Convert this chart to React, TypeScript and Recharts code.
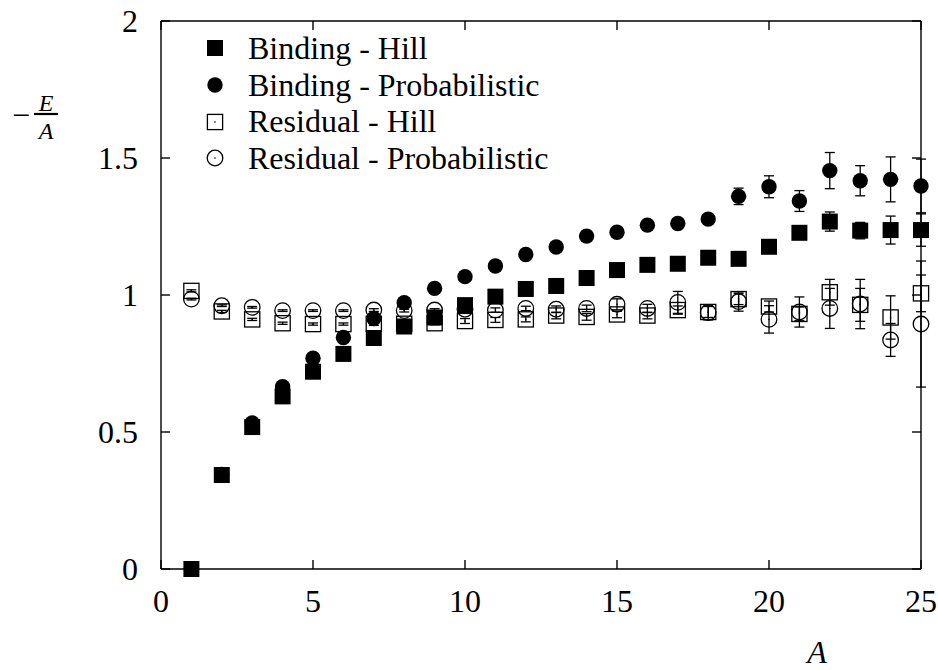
import React from 'react';
import { ScatterChart, Scatter, XAxis, YAxis, ErrorBar, ReferenceLine, Legend } from 'recharts';

// Mass number A
const massNumbers = [1, 2, 3, 4, 5, 6, 7, 8, 9, 10, 11, 12, 13, 14, 15, 16, 17, 18, 19, 20, 21, 22, 23, 24, 25];

// -E/A, binding energy per nucleon
const bindingHill = [0, 0.343, 0.518, 0.63, 0.72, 0.785, 0.843, 0.885, 0.918, 0.963, 0.994, 1.022, 1.033, 1.062, 1.091, 1.11, 1.114, 1.136, 1.132, 1.176, 1.227, 1.268, 1.235, 1.237, 1.237];
const bindingHillErr = [null, null, null, null, null, null, null, null, null, null, null, null, null, null, null, null, null, null, null, null, null, 0.035, 0.03, 0.051, 0.059];

const bindingProb = [0, 0.345, 0.533, 0.665, 0.769, 0.845, 0.914, 0.972, 1.024, 1.067, 1.106, 1.148, 1.175, 1.215, 1.229, 1.255, 1.261, 1.277, 1.36, 1.395, 1.343, 1.454, 1.417, 1.422, 1.398];
const bindingProbErr = [null, null, null, null, null, null, null, null, null, null, null, null, null, null, null, null, null, null, 0.03, 0.04, 0.038, 0.066, 0.055, 0.082, 0.098];

// -E/A, residual
const residualHill = [1.015, 0.94, 0.911, 0.897, 0.894, 0.894, 0.895, 0.895, 0.897, 0.905, 0.909, 0.911, 0.925, 0.92, 0.929, 0.925, 0.945, 0.938, 0.985, 0.958, 0.931, 1.01, 0.964, 0.918, 1.006];
const residualHillErr = [0.004, 0.004, 0.004, 0.004, 0.004, 0.004, 0.006, 0.006, 0.006, 0.009, 0.009, 0.009, 0.012, 0.012, 0.012, 0.012, 0.015, 0.02, 0.02, 0.02, 0.025, 0.047, 0.06, 0.079, 0.067];

const residualProb = [0.985, 0.961, 0.955, 0.943, 0.943, 0.943, 0.945, 0.943, 0.945, 0.948, 0.945, 0.951, 0.948, 0.951, 0.966, 0.951, 0.973, 0.936, 0.976, 0.911, 0.938, 0.951, 0.967, 0.836, 0.894];
const residualProbErr = [0.003, 0.003, 0.003, 0.003, 0.003, 0.003, 0.005, 0.005, 0.005, 0.008, 0.008, 0.008, 0.012, 0.012, 0.02, 0.015, 0.04, 0.027, 0.035, 0.05, 0.055, 0.073, 0.09, 0.06, 0.23];

const xTicks = [0, 5, 10, 15, 20, 25];
const yTicks = [0, 0.5, 1, 1.5, 2];

const seriesNames = ['Binding - Hill', 'Binding - Probabilistic', 'Residual - Hill', 'Residual - Probabilistic'];

type Kind = 'filledSquare' | 'filledCircle' | 'openSquare' | 'openCircle';

const toPoints = (values: number[], errors: (number | null)[]) =>
  massNumbers.map((a, i) => ({ a, v: values[i], err: errors[i] }));

const series: { name: string; kind: Kind; data: { a: number; v: number; err: number | null }[] }[] = [
  { name: seriesNames[0], kind: 'filledSquare', data: toPoints(bindingHill, bindingHillErr) },
  { name: seriesNames[1], kind: 'filledCircle', data: toPoints(bindingProb, bindingProbErr) },
  { name: seriesNames[2], kind: 'openSquare', data: toPoints(residualHill, residualHillErr) },
  { name: seriesNames[3], kind: 'openCircle', data: toPoints(residualProb, residualProbErr) },
];

const FONT = '"Liberation Serif", "Times New Roman", serif';
const FONT_SIZE = 32;
const PLOT_W = 760;
const PLOT_H = 548;
const TICK = 9;
const LINE = 1.4;

const Marker = ({ kind, cx, cy }: { kind: Kind; cx: number; cy: number }) => {
  switch (kind) {
    case 'filledSquare':
      return <rect x={cx - 8} y={cy - 8} width={16} height={16} fill="#000" />;
    case 'filledCircle':
      return <circle cx={cx} cy={cy} r={7.7} fill="#000" />;
    case 'openSquare':
      return (
        <g>
          <rect x={cx - 7.6} y={cy - 7.6} width={15.2} height={15.2} fill="none" stroke="#000" strokeWidth={1.3} />
          <circle cx={cx} cy={cy} r={0.8} fill="#000" />
        </g>
      );
    default:
      return (
        <g>
          <circle cx={cx} cy={cy} r={7.8} fill="none" stroke="#000" strokeWidth={1.3} />
          <circle cx={cx} cy={cy} r={0.8} fill="#000" />
        </g>
      );
  }
};

const XTick = (props: any) => {
  const { x, y, payload } = props;
  return (
    <g>
      <line x1={x} x2={x} y1={y} y2={y - TICK} stroke="#000" strokeWidth={LINE} />
      <line x1={x} x2={x} y1={y - PLOT_H} y2={y - PLOT_H + TICK} stroke="#000" strokeWidth={LINE} />
      <text x={x} y={y + 43} textAnchor="middle" fontFamily={FONT} fontSize={FONT_SIZE} fill="#000">
        {String(payload.value)}
      </text>
    </g>
  );
};

const YTick = (props: any) => {
  const { x, y, payload } = props;
  return (
    <g>
      <line x1={x} x2={x + TICK} y1={y} y2={y} stroke="#000" strokeWidth={LINE} />
      <line x1={x + PLOT_W} x2={x + PLOT_W - TICK} y1={y} y2={y} stroke="#000" strokeWidth={LINE} />
      <text x={x - 23} y={y + 11} textAnchor="end" fontFamily={FONT} fontSize={FONT_SIZE} fill="#000">
        {String(payload.value)}
      </text>
    </g>
  );
};

const XTitle = () => (
  <text x={817} y={663} textAnchor="middle" fontFamily={FONT} fontStyle="italic" fontSize={FONT_SIZE} fill="#000">
    A
  </text>
);

const YTitle = () => (
  <g fontFamily={FONT} fill="#000">
    <text x={21} y={126} textAnchor="middle" fontSize={FONT_SIZE}>
      −
    </text>
    <text x={46} y={111} textAnchor="middle" fontSize={24} fontStyle="italic">
      E
    </text>
    <line x1={34} x2={58} y1={114} y2={114} stroke="#000" strokeWidth={2.2} />
    <text x={46} y={139} textAnchor="middle" fontSize={24} fontStyle="italic">
      A
    </text>
  </g>
);

const LegendBox = () => (
  <div style={{ fontFamily: FONT, fontSize: FONT_SIZE, color: '#000' }}>
    {series.map((s) => (
      <div key={s.name} style={{ display: 'flex', alignItems: 'center', height: 36.7, lineHeight: '36.7px', whiteSpace: 'nowrap' }}>
        <svg width={24} height={24} style={{ flex: 'none' }}>
          <Marker kind={s.kind} cx={12} cy={12} />
        </svg>
        <span style={{ marginLeft: 21 }}>{s.name}</span>
      </div>
    ))}
  </div>
);

export default function App() {
  return (
    <>
      <style>{'html, body { margin: 0; overflow: hidden; } .recharts-surface { overflow: visible; }'}</style>
      <ScatterChart width={938} height={670} margin={{ top: 21, right: 17, bottom: 0, left: 0 }}>
        <XAxis
          type="number"
          dataKey="a"
          domain={[0, 25]}
          ticks={xTicks}
          height={101}
          tickSize={0}
          tickMargin={0}
          tickLine={false}
          axisLine={{ stroke: '#000', strokeWidth: LINE }}
          tick={XTick}
          label={{ content: XTitle }}
        />
        <YAxis
          type="number"
          dataKey="v"
          domain={[0, 2]}
          ticks={yTicks}
          width={161}
          tickSize={0}
          tickMargin={0}
          tickLine={false}
          axisLine={{ stroke: '#000', strokeWidth: LINE }}
          tick={YTick}
          label={{ content: YTitle }}
        />
        <ReferenceLine x={25} stroke="#000" strokeWidth={LINE} />
        <ReferenceLine y={2} stroke="#000" strokeWidth={LINE} />
        {series.map((s) => (
          <Scatter
            key={s.name}
            name={s.name}
            data={s.data}
            isAnimationActive={false}
            shape={(p: any) => <Marker kind={s.kind} cx={p.cx} cy={p.cy} />}
          >
            <ErrorBar dataKey="err" direction="y" width={5} stroke="#000" strokeWidth={1.3} />
          </Scatter>
        ))}
        <Legend
          layout="horizontal"
          verticalAlign="middle"
          align="center"
          wrapperStyle={{ left: 203, top: 30, width: 'auto', height: 'auto' }}
          content={() => <LegendBox />}
        />
      </ScatterChart>
    </>
  );
}
